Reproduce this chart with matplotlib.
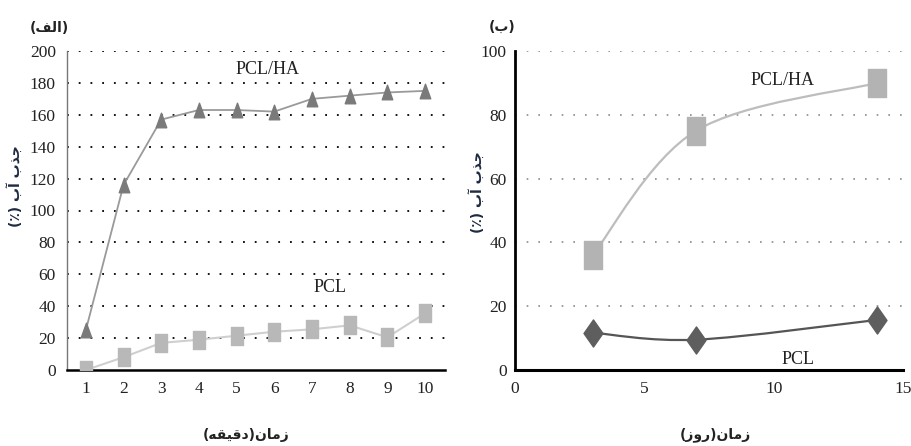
import matplotlib
matplotlib.use("Agg")
import matplotlib.pyplot as plt
from matplotlib.path import Path
from matplotlib.patches import PathPatch
import numpy as np

# ---------------- data ----------------
minutes = [1, 2, 3, 4, 5, 6, 7, 8, 9, 10]
pclha_min = [25, 116, 157, 163, 163, 162, 170, 172, 174, 175]
pcl_min = [0, 8, 17, 19, 21.5, 24, 25.5, 28, 20.5, 35.5]

days = [3, 7, 14]
pclha_day = [36, 75, 90]
pcl_day = [11.7, 9.5, 15.7]

left_yticks = [0, 20, 40, 60, 80, 100, 120, 140, 160, 180, 200]
right_yticks = [0, 20, 40, 60, 80, 100]
right_xticks = [0, 5, 10, 15]

# Persian labels (pre-shaped, visual order)
title_a = "(\uFED2\uFEDF\uFE8D)"                      # (الف)
title_b = "(\uFE8F)"                                  # (ب)
zaman = "\uFEE5\uFE8E\uFEE3\uFEAF"                    # زمان
xlabel_a = "(" + "\uFEEA\uFED8\uFEF4\uFED7\uFEA9" + ")" + zaman   # زمان(دقیقه)
xlabel_b = "(" + "\uFEAF\uFEED\uFEAD" + ")" + zaman               # زمان(روز)
ylabel = "(\u066A) " + "\uFE8F\uFE81" + " " + "\uFE8F\uFEAC\uFE9F"  # جذب آب (٪)

serif = ["Liberation Serif", "DejaVu Serif"]
arab = ["DejaVu Sans"]

fig = plt.figure(figsize=(9.12, 4.46), dpi=100)
ax1 = fig.add_axes([67 / 912, 76 / 446, 378 / 912, 319 / 446])
ax2 = fig.add_axes([515 / 912, 76 / 446, 388 / 912, 319 / 446])

# custom (vertically stretched) markers
sq = Path([(-0.65, -1), (0.65, -1), (0.65, 1), (-0.65, 1), (-0.65, -1)],
          [Path.MOVETO, Path.LINETO, Path.LINETO, Path.LINETO, Path.CLOSEPOLY])
tri = Path([(0, 1), (-0.72, -1), (0.72, -1), (0, 1)],
           [Path.MOVETO, Path.LINETO, Path.LINETO, Path.CLOSEPOLY])
dia = Path([(0, -1), (0.7, 0), (0, 1), (-0.7, 0), (0, -1)],
           [Path.MOVETO, Path.LINETO, Path.LINETO, Path.LINETO, Path.CLOSEPOLY])


def smooth_path(xs, ys):
    pts = np.column_stack([xs, ys]).astype(float)
    n = len(pts)
    verts = [tuple(pts[0])]
    codes = [Path.MOVETO]
    for i in range(n - 1):
        p0 = pts[max(i - 1, 0)]
        p1 = pts[i]
        p2 = pts[i + 1]
        p3 = pts[min(i + 2, n - 1)]
        c1 = p1 + (p2 - p0) / 6.0
        c2 = p2 - (p3 - p1) / 6.0
        verts += [tuple(c1), tuple(c2), tuple(p2)]
        codes += [Path.CURVE4] * 3
    return Path(verts, codes)


# ---------------- left panel ----------------
ax1.plot(minutes, pclha_min, color="#9a9a9a", lw=1.3, zorder=3)
ax1.plot(minutes, pclha_min, ls="none", marker=tri, ms=10.5, color="#7a7a7a",
         mec="#7a7a7a", zorder=4)
ax1.plot(minutes, pcl_min, color="#cfcfcf", lw=1.5, zorder=3)
ax1.plot(minutes, pcl_min, ls="none", marker=sq, ms=13, color="#b8b8b8",
         mec="#b8b8b8", zorder=4)

ax1.set_xlim(0.5, 10.53)
ax1.set_ylim(0, 200)
ax1.set_xticks(minutes)
ax1.set_yticks(left_yticks)
for y in left_yticks[1:]:
    ax1.axhline(y, color="black", lw=1.3, ls=(0, (1, 5.5)), zorder=1)
for s in ["top", "right"]:
    ax1.spines[s].set_visible(False)
ax1.spines["left"].set_color("#777777")
ax1.spines["left"].set_linewidth(1.0)
ax1.spines["bottom"].set_color("black")
ax1.spines["bottom"].set_linewidth(1.8)
ax1.tick_params(axis="both", length=0, labelsize=12.5)
ax1.tick_params(axis="y", pad=8)
ax1.tick_params(axis="x", pad=8)
for lab in ax1.get_xticklabels() + ax1.get_yticklabels():
    lab.set_family(serif)
    lab.set_color("#222222")

ax1.text(5.83, 188.5, "PCL/HA", family=serif, fontsize=13, ha="center",
         va="center", color="#222222")
ax1.text(7.48, 52, "PCL", family=serif, fontsize=13, ha="center",
         va="center", color="#222222")

# ---------------- right panel ----------------
ax2.add_patch(PathPatch(smooth_path(days, pclha_day), fill=False,
                        ec="#bdbdbd", lw=1.6, zorder=3))
ax2.plot(days, pclha_day, ls="none", marker=sq, ms=20.5, color="#b3b3b3",
         mec="#b3b3b3", zorder=4)
ax2.add_patch(PathPatch(smooth_path(days, pcl_day), fill=False,
                        ec="#555555", lw=1.6, zorder=3))
ax2.plot(days, pcl_day, ls="none", marker=dia, ms=19.5, color="#5e5e5e",
         mec="#5e5e5e", zorder=4)

ax2.set_xlim(0, 15)
ax2.set_ylim(0, 100)
ax2.set_xticks(right_xticks)
ax2.set_yticks(right_yticks)
for y in right_yticks[1:]:
    ax2.axhline(y, color="#8a8a8a", lw=1.2, ls=(0, (1, 6)), zorder=1)
for s in ["top", "right"]:
    ax2.spines[s].set_visible(False)
ax2.spines["left"].set_color("black")
ax2.spines["left"].set_linewidth(2.0)
ax2.spines["bottom"].set_color("black")
ax2.spines["bottom"].set_linewidth(2.2)
ax2.tick_params(axis="both", length=0, labelsize=12.5)
ax2.tick_params(axis="y", pad=6)
ax2.tick_params(axis="x", pad=8)
for lab in ax2.get_xticklabels() + ax2.get_yticklabels():
    lab.set_family(serif)
    lab.set_color("#222222")

ax2.text(10.36, 90.8, "PCL/HA", family=serif, fontsize=13, ha="center",
         va="center", color="#222222")
ax2.text(10.94, 3.3, "PCL", family=serif, fontsize=13, ha="center",
         va="center", color="#222222")

# ---------------- Persian labels ----------------
fig.text(49 / 912, 1 - 28 / 446, title_a, family=arab, fontweight="bold",
         fontsize=10, ha="center", va="center", color="#222222")
fig.text(502 / 912, 1 - 27 / 446, title_b, family=arab, fontweight="bold",
         fontsize=10, ha="center", va="center", color="#222222")
fig.text(246 / 912, 1 - 435 / 446, xlabel_a, family=arab, fontweight="bold",
         fontsize=10, ha="center", va="center", color="#222222")
fig.text(715 / 912, 1 - 435 / 446, xlabel_b, family=arab, fontweight="bold",
         fontsize=10, ha="center", va="center", color="#222222")
fig.text(15 / 912, 1 - 186 / 446, ylabel, family=arab, fontweight="bold",
         fontsize=10, ha="center", va="center", rotation=90, color="#1e2a40")
fig.text(477 / 912, 1 - 192 / 446, ylabel, family=arab, fontweight="bold",
         fontsize=10, ha="center", va="center", rotation=90, color="#1e2a40")

fig.savefig("out.png", dpi=100)
